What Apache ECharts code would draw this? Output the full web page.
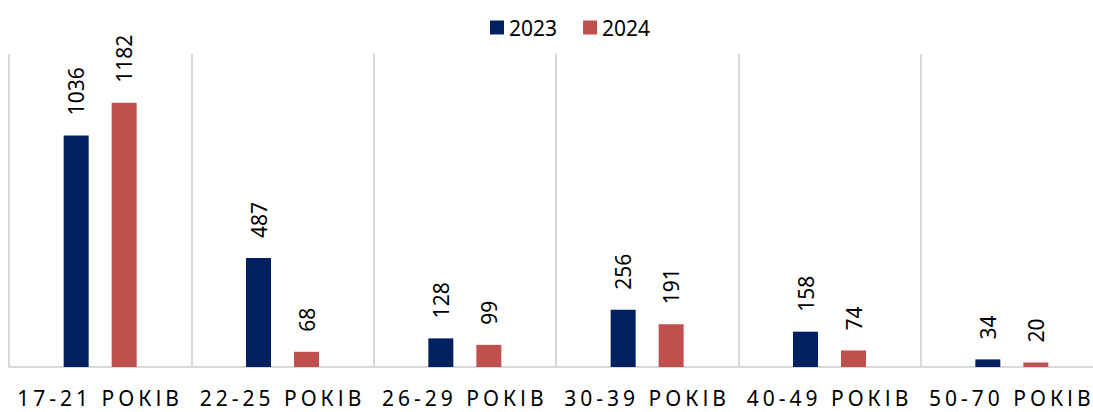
<!DOCTYPE html>
<html>
<head>
<meta charset="utf-8">
<script src="https://cdn.jsdelivr.net/npm/echarts@6/dist/echarts.min.js"></script>
<style>
html,body{margin:0;padding:0;background:#fff;overflow:hidden;}
#chart{width:1103px;height:412px;}
</style>
</head>
<body>
<div id="chart"></div>
<script>
const categories = ['17-21 РОКІВ', '22-25 РОКІВ', '26-29 РОКІВ', '30-39 РОКІВ', '40-49 РОКІВ', '50-70 РОКІВ'];
const seriesNames = ['2023', '2024'];
const values2023 = [1036, 487, 128, 256, 158, 34];
const values2024 = [1182, 68, 99, 191, 74, 20];
const colors = ['#002060', '#C0504D'];

const FONT = 'Noto Sans';
const chart = echarts.init(document.getElementById('chart'), null, {renderer: 'svg'});

const labelCfg = {
  show: true, position: 'top', rotate: 90, align: 'left', verticalAlign: 'middle',
  distance: 20, fontSize: 21, fontFamily: FONT, color: '#000'
};

chart.setOption({
  animation: false,
  color: colors,
  legend: {
    data: seriesNames, left: 485, top: 12, itemWidth: 14, itemHeight: 14, itemGap: 26,
    icon: 'rect',
    textStyle: {fontSize: 21, fontFamily: FONT, color: '#000'}
  },
  grid: {left: 9, top: 54, right: 0, height: 313, containLabel: false},
  xAxis: {
    type: 'category', data: categories,
    axisLine: {show: true, lineStyle: {color: '#d9d9d9', width: 2}},
    axisTick: {show: false},
    splitLine: {show: true, lineStyle: {color: '#d9d9d9', width: 2}},
    axisLabel: {fontSize: 21, lineHeight: 18, fontFamily: FONT, color: '#000', margin: 22, interval: 0}
  },
  yAxis: {
    type: 'value', min: 0, max: 1400, interval: 200, show: false,
    splitLine: {show: false}
  },
  series: [
    {name: seriesNames[0], type: 'bar', data: values2023, barWidth: 25, barGap: '92%', label: labelCfg},
    {name: seriesNames[1], type: 'bar', data: values2024, barWidth: 25, barGap: '92%', label: labelCfg}
  ]
});

function spaceLabels(){
  document.querySelectorAll('#chart svg text').forEach(t => {
    if (categories.includes(t.textContent.trim())) {
      t.setAttribute('letter-spacing', '4px');
    }
  });
}
spaceLabels();
chart.on('finished', spaceLabels);
</script>
</body>
</html>
